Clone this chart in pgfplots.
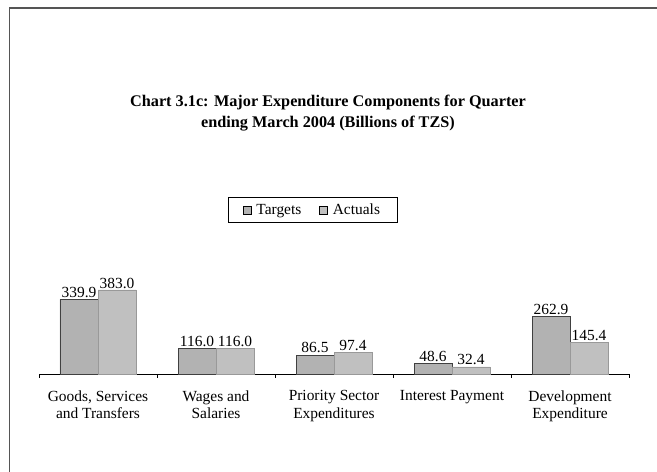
\documentclass[border=0pt]{standalone}
\usepackage{fontspec}
\setmainfont{Liberation Serif}
\usepackage{pgfplots}
\pgfplotsset{compat=1.18}

\definecolor{targetfill}{HTML}{B2B2B2}
\definecolor{actualfill}{HTML}{C0C0C0}
\definecolor{framegray}{HTML}{555555}
\newcommand\chartfont{\fontsize{15.5}{17.5}\selectfont}

\begin{document}
\begin{tikzpicture}
\path[use as bounding box] (0,0) rectangle (657bp,472bp);
% frame of the chart area (cut off at right and bottom)
\draw[framegray,line width=1.5bp] (9.5bp,0) -- (9.5bp,464bp) -- (657bp,464bp);
% title
\node[font=\bfseries\fontsize{16.3}{21}\selectfont,align=center,anchor=north]
  at (328bp,380bp) {Chart 3.1c: Major Expenditure Components for Quarter\\ending March 2004 (Billions of TZS)};

\begin{axis}[
  at={(39bp,98bp)}, anchor=south west,
  scale only axis,
  width=590bp, height=87.8bp,
  ybar=0pt, bar width=38bp,
  xmin=-0.5, xmax=4.5,
  ymin=0, ymax=400,
  axis x line*=bottom,
  hide y axis,
  xtick={0,1,2,3,4},
  xticklabels={{Goods, Services\\and Transfers},{Wages and\\Salaries},{Priority Sector\\Expenditures},{Interest Payment},{Development\\Expenditure}},
  xticklabel style={align=center,font=\chartfont,yshift=-9bp},
  major x tick style={draw=none},
  minor xtick={-0.5,0.5,...,4.5},
  minor tick length=4bp,
  tick align=outside,
  x axis line style={black,line width=0.8bp,-},
  minor x tick style={black,line width=0.8bp},
  clip=false,
  nodes near coords,
  nodes near coords style={font=\chartfont,anchor=south,inner sep=1.5bp,
    /pgf/number format/.cd,fixed,fixed zerofill,precision=1,assume math mode=true},
  legend columns=2,
  legend style={at={(axis description cs:0.4635,1.87)},anchor=center,
    draw=black,line width=0.6bp,font=\chartfont,
    inner xsep=15bp,inner ysep=4bp,
    /tikz/every odd column/.append style={column sep=3bp},
    /tikz/every even column/.append style={column sep=16bp}},
  legend image code/.code={\draw[#1,line width=0.5bp,draw=black] (0bp,-4bp) rectangle (8bp,3.5bp);},
]
\addplot[fill=targetfill,draw=black!75,line width=0.8bp] coordinates {
  (0,339.9) (1,116.0) (2,86.5) (3,48.6) (4,262.9)
};
\addlegendentry{Targets}
\addplot[fill=actualfill,draw=black!40,line width=0.4bp] coordinates {
  (0,383.0) (1,116.0) (2,97.4) (3,32.4) (4,145.4)
};
\addlegendentry{Actuals}
\end{axis}
\end{tikzpicture}
\end{document}
